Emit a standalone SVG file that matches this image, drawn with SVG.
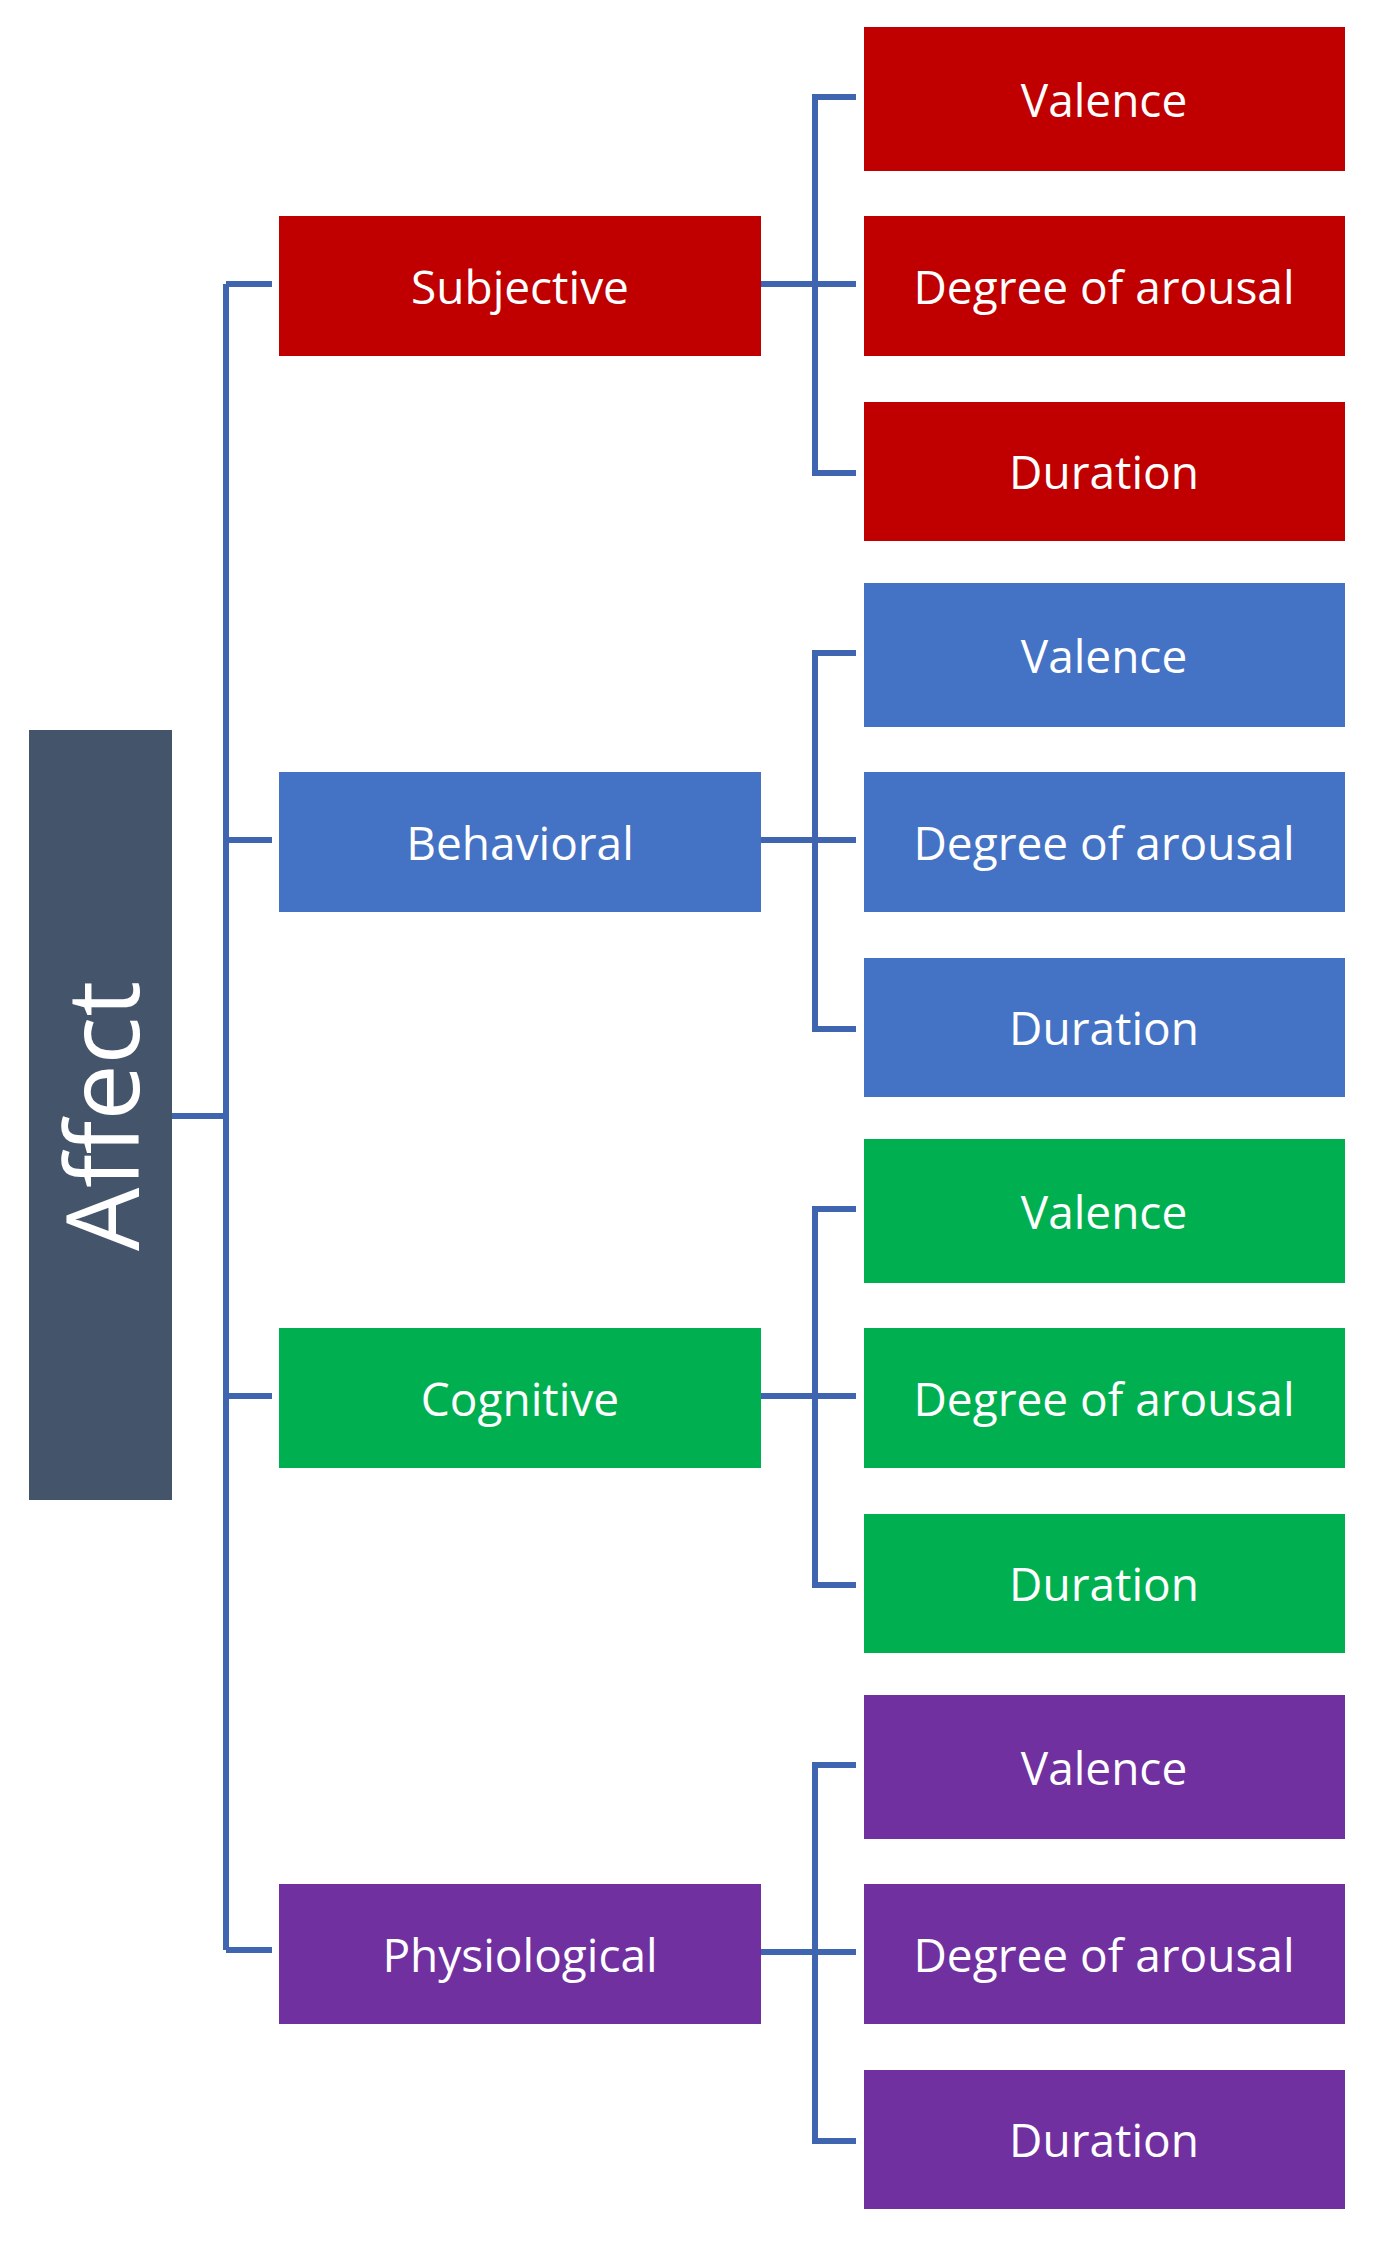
<svg xmlns="http://www.w3.org/2000/svg" width="1374" height="2259" viewBox="0 0 1374 2259">
<style>
text{font-family:"Open Sans","Liberation Sans",sans-serif;fill:#fff;text-anchor:middle;dominant-baseline:central}
.t{font-size:46px}
.c{fill:none;stroke:#3F64B0;stroke-width:6}
.r{fill:#C00000}.b{fill:#4472C4}.g{fill:#00B050}.p{fill:#7030A0}
</style>
<rect width="1374" height="2259" fill="#fff"/>
<g id="connectors">
<path class="c" d="M172 1116H226M226 284V1950M226 284H272M226 840H272M226 1396H272M226 1950H272"/>
<path class="c" d="M761 284H856M856 97H815V473H856"/>
<path class="c" d="M761 840H856M856 653H815V1029H856"/>
<path class="c" d="M761 1396H856M856 1209H815V1585H856"/>
<path class="c" d="M761 1952H856M856 1765H815V2141H856"/>
</g>
<g id="affect"><rect x="29" y="730" width="143" height="770" fill="#44546A"/><text transform="translate(100 1116) rotate(-90)" font-size="100">Affect</text></g>
<g id="subjective"><rect class="r" x="279" y="216" width="482" height="140"/><text class="t" x="520" y="286">Subjective</text></g>
<g id="s-valence"><rect class="r" x="864" y="27" width="481" height="144"/><text class="t" x="1104" y="99">Valence</text></g>
<g id="s-arousal"><rect class="r" x="864" y="216" width="481" height="140"/><text class="t" x="1104" y="286">Degree of arousal</text></g>
<g id="s-duration"><rect class="r" x="864" y="402" width="481" height="139"/><text class="t" x="1104" y="471">Duration</text></g>
<g id="behavioral"><rect class="b" x="279" y="772" width="482" height="140"/><text class="t" x="520" y="842">Behavioral</text></g>
<g id="b-valence"><rect class="b" x="864" y="583" width="481" height="144"/><text class="t" x="1104" y="655">Valence</text></g>
<g id="b-arousal"><rect class="b" x="864" y="772" width="481" height="140"/><text class="t" x="1104" y="842">Degree of arousal</text></g>
<g id="b-duration"><rect class="b" x="864" y="958" width="481" height="139"/><text class="t" x="1104" y="1027">Duration</text></g>
<g id="cognitive"><rect class="g" x="279" y="1328" width="482" height="140"/><text class="t" x="520" y="1398">Cognitive</text></g>
<g id="c-valence"><rect class="g" x="864" y="1139" width="481" height="144"/><text class="t" x="1104" y="1211">Valence</text></g>
<g id="c-arousal"><rect class="g" x="864" y="1328" width="481" height="140"/><text class="t" x="1104" y="1398">Degree of arousal</text></g>
<g id="c-duration"><rect class="g" x="864" y="1514" width="481" height="139"/><text class="t" x="1104" y="1583">Duration</text></g>
<g id="physiological"><rect class="p" x="279" y="1884" width="482" height="140"/><text class="t" x="520" y="1954">Physiological</text></g>
<g id="p-valence"><rect class="p" x="864" y="1695" width="481" height="144"/><text class="t" x="1104" y="1767">Valence</text></g>
<g id="p-arousal"><rect class="p" x="864" y="1884" width="481" height="140"/><text class="t" x="1104" y="1954">Degree of arousal</text></g>
<g id="p-duration"><rect class="p" x="864" y="2070" width="481" height="139"/><text class="t" x="1104" y="2139">Duration</text></g>
</svg>
